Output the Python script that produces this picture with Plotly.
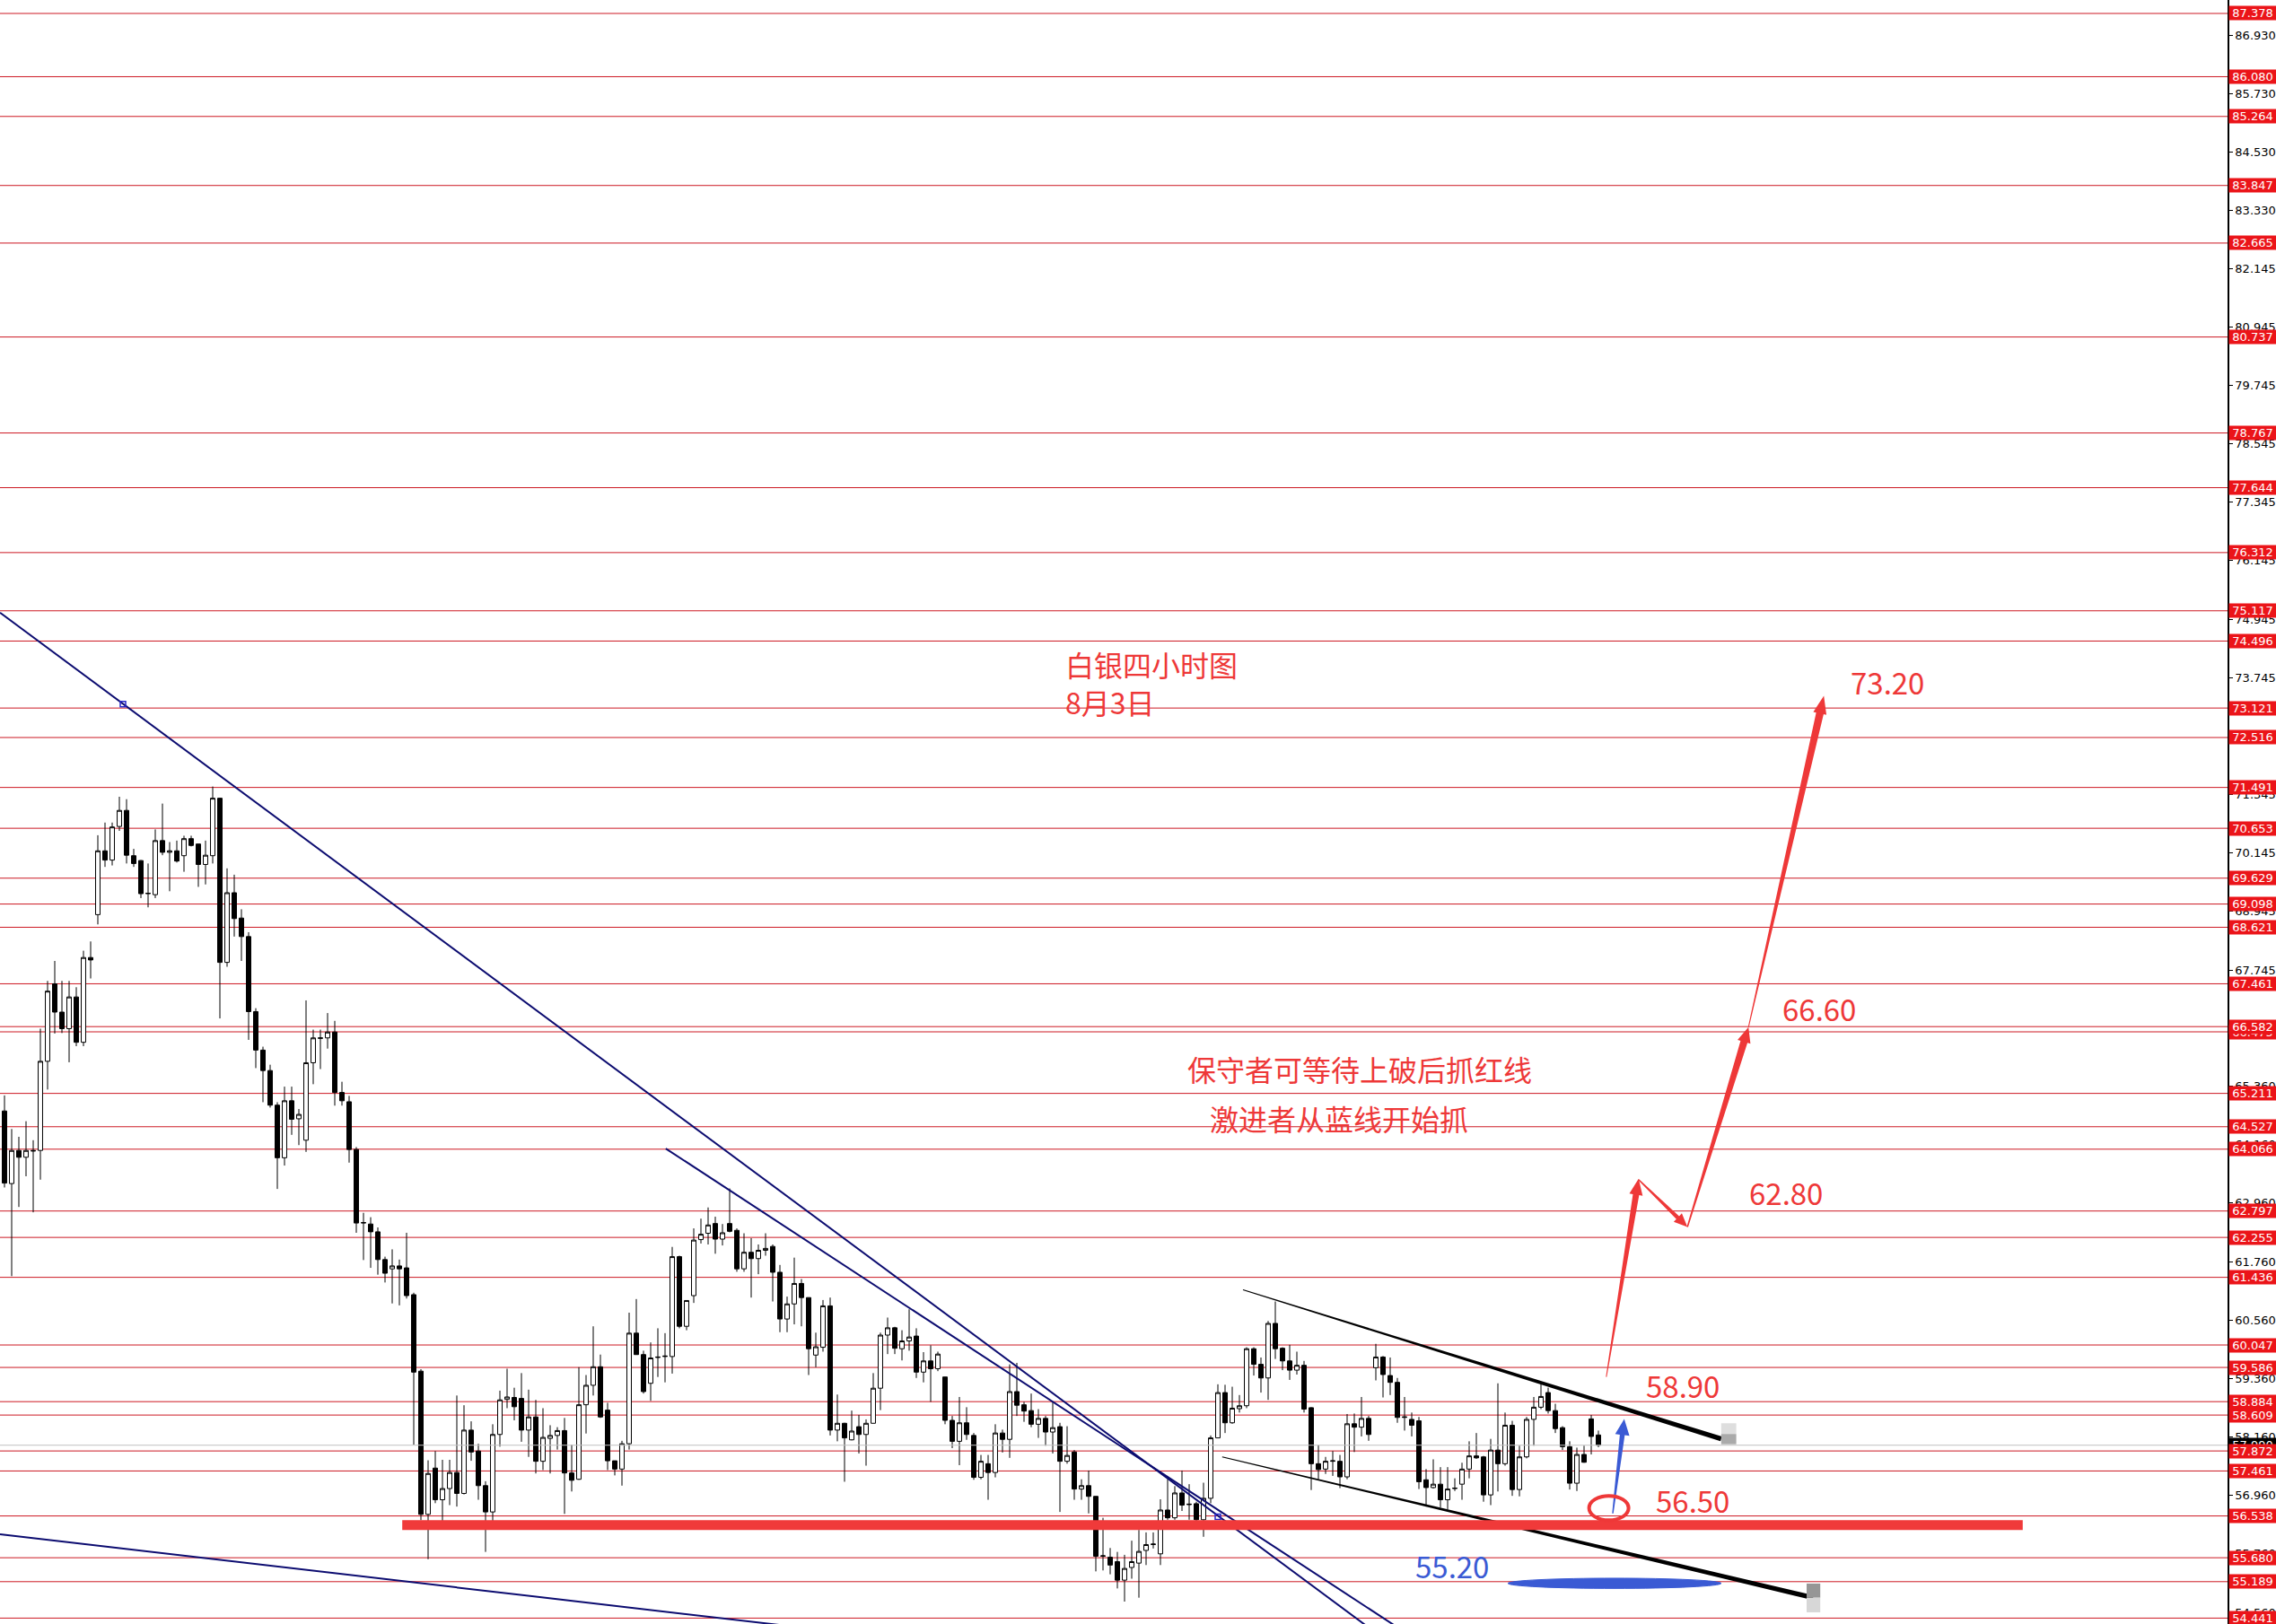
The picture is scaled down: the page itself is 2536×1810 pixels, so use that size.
import math
import plotly.graph_objects as go

# ---- candle data (4h bars) ----
opens = [64.85, 63.36, 64.04, 63.90, 64.04, 64.04, 65.87, 67.46, 66.88, 66.54,
         67.19, 66.26, 68.00, 68.88, 70.19, 70.00, 70.69, 71.02, 70.09, 69.99,
         69.31, 69.29, 70.40, 70.16, 70.19, 70.09, 70.44, 70.33, 69.91, 70.09,
         71.27, 67.90, 69.33, 68.81, 68.43, 66.89, 66.10, 65.68, 64.97, 63.89,
         65.06, 64.69, 64.25, 65.84, 66.34, 66.35, 66.47, 65.23, 65.04, 64.06,
         62.55, 62.53, 62.37, 61.80, 61.61, 61.67, 61.63, 61.08, 59.51, 56.57,
         57.52, 56.87, 57.10, 57.43, 57.00, 58.30, 57.87, 57.16, 56.62, 58.21,
         58.93, 58.97, 58.95, 58.30, 58.57, 57.66, 58.13, 58.19, 58.29, 57.42,
         57.29, 58.82, 59.22, 59.60, 58.71, 57.67, 57.50, 58.02, 60.29, 59.85,
         59.26, 59.79, 59.81, 59.81, 61.86, 60.43, 61.06, 62.21, 62.34, 62.54,
         62.22, 62.54, 62.40, 61.61, 61.95, 61.82, 61.99, 62.07, 61.54, 60.58,
         60.89, 61.31, 61.02, 59.84, 60.00, 60.85, 58.30, 58.44, 58.10, 58.37,
         58.21, 58.44, 59.16, 60.25, 60.40, 59.97, 60.13, 60.23, 59.49, 59.72,
         59.56, 59.39, 58.50, 58.07, 58.45, 58.19, 57.33, 57.61, 57.43, 58.24,
         58.11, 59.09, 58.82, 58.70, 58.42, 58.54, 58.26, 58.37, 57.66, 57.85,
         57.09, 57.16, 56.94, 55.71, 55.69, 55.60, 55.22, 55.48, 55.57, 55.83,
         55.95, 55.76, 56.66, 56.50, 57.01, 56.77, 56.79, 56.46, 56.90, 58.14,
         59.07, 58.45, 58.74, 58.80, 59.97, 59.65, 59.37, 60.49, 59.98, 59.72,
         59.53, 59.63, 58.76, 57.61, 57.50, 57.66, 57.66, 57.34, 58.43, 58.36,
         58.54, 59.58, 59.80, 59.42, 59.28, 58.56, 58.52, 58.49, 57.28, 57.12,
         57.19, 56.87, 57.10, 57.19, 57.50, 57.77, 57.75, 56.97, 57.89, 57.61,
         58.40, 57.08, 57.75, 58.52, 58.77, 59.07, 58.70, 58.35, 57.96, 57.21,
         57.80, 58.53, 58.20]
highs = [65.17, 64.48, 64.32, 64.64, 64.25, 66.54, 67.52, 67.93, 67.52, 67.52,
         67.39, 68.14, 68.33, 70.51, 70.77, 70.77, 71.30, 71.25, 70.23, 70.00,
         69.93, 70.63, 71.16, 70.37, 70.40, 70.50, 70.50, 70.33, 70.40, 71.51,
         71.28, 69.83, 69.70, 68.99, 68.52, 66.96, 66.17, 65.80, 65.03, 65.35,
         65.35, 64.89, 67.12, 66.52, 66.52, 66.86, 66.70, 65.45, 65.16, 64.11,
         62.76, 62.67, 62.46, 61.86, 62.01, 61.80, 62.35, 61.12, 59.55, 57.68,
         57.87, 57.69, 57.69, 59.01, 58.81, 58.48, 58.02, 57.25, 58.42, 59.11,
         59.56, 59.17, 59.47, 59.13, 58.92, 58.75, 58.40, 58.36, 58.55, 58.00,
         59.59, 59.43, 60.43, 59.85, 58.86, 57.67, 58.08, 60.71, 60.99, 59.93,
         60.10, 60.39, 60.29, 62.06, 61.88, 60.96, 62.44, 62.64, 62.87, 62.68,
         62.53, 63.26, 62.44, 62.34, 62.24, 62.11, 62.34, 62.11, 61.69, 61.04,
         61.84, 61.40, 61.02, 60.30, 60.97, 61.02, 59.03, 58.45, 58.70, 58.61,
         58.52, 59.47, 60.30, 60.61, 60.42, 60.35, 60.78, 60.39, 59.90, 60.04,
         59.91, 59.39, 58.59, 58.98, 58.77, 58.24, 57.79, 57.79, 58.42, 58.31,
         59.65, 59.68, 58.88, 59.05, 58.73, 58.59, 58.88, 58.45, 58.38, 57.89,
         57.29, 57.47, 56.94, 56.50, 55.88, 55.80, 55.74, 56.03, 56.25, 56.20,
         56.20, 56.88, 57.29, 57.15, 57.47, 57.19, 56.83, 57.22, 58.19, 59.24,
         59.23, 59.19, 59.02, 60.00, 60.00, 59.79, 60.54, 60.94, 60.00, 60.05,
         59.91, 59.72, 58.77, 57.99, 57.75, 57.87, 57.79, 58.63, 58.64, 58.98,
         58.59, 60.07, 59.82, 59.79, 59.37, 58.98, 58.66, 58.57, 57.50, 57.70,
         57.54, 57.54, 57.31, 57.63, 58.07, 58.24, 57.77, 58.12, 59.26, 58.66,
         58.49, 57.98, 58.57, 58.98, 59.26, 59.17, 58.84, 58.38, 58.07, 57.94,
         57.98, 58.61, 58.29]
lows = [63.28, 61.46, 62.88, 63.51, 62.77, 63.44, 65.29, 66.44, 66.45, 65.85,
        66.18, 66.18, 67.57, 68.68, 69.86, 69.89, 70.60, 69.93, 69.86, 69.22,
        69.03, 69.22, 70.10, 69.36, 69.95, 69.76, 70.28, 69.45, 69.50, 69.93,
        66.75, 67.81, 68.43, 67.93, 66.31, 65.73, 65.03, 64.92, 63.25, 63.73,
        64.36, 64.15, 64.01, 65.40, 65.71, 66.13, 64.96, 64.96, 63.79, 62.35,
        61.79, 61.63, 61.49, 61.33, 60.90, 60.86, 61.00, 58.00, 56.45, 55.65,
        56.80, 56.38, 56.76, 56.73, 56.98, 57.67, 56.87, 55.80, 56.30, 57.96,
        58.75, 58.50, 58.06, 57.75, 57.41, 57.48, 57.41, 57.90, 56.58, 57.04,
        57.28, 58.23, 59.01, 58.55, 57.48, 57.37, 57.16, 57.90, 59.85, 59.05,
        58.90, 59.39, 59.28, 59.46, 60.39, 60.35, 60.91, 62.13, 62.11, 61.92,
        62.09, 62.36, 61.55, 61.55, 61.02, 61.50, 61.88, 60.94, 60.31, 60.31,
        60.47, 60.43, 59.43, 59.59, 59.91, 58.19, 58.07, 57.24, 58.09, 57.82,
        57.57, 58.44, 58.71, 59.86, 59.86, 59.73, 59.93, 59.37, 59.28, 58.88,
        59.51, 58.42, 57.93, 57.58, 58.10, 57.28, 57.29, 56.87, 57.33, 57.84,
        57.73, 58.59, 58.47, 58.36, 58.14, 57.98, 57.82, 56.62, 57.61, 56.87,
        56.87, 56.59, 55.40, 55.42, 55.34, 55.05, 54.78, 55.25, 54.86, 55.53,
        55.87, 55.53, 56.46, 56.46, 56.64, 56.46, 56.38, 56.11, 56.80, 58.14,
        58.24, 58.43, 58.66, 58.75, 59.42, 59.07, 58.92, 59.76, 59.53, 59.33,
        59.44, 58.66, 57.07, 57.29, 57.40, 57.36, 57.11, 57.29, 57.85, 58.17,
        58.08, 59.32, 58.97, 59.02, 58.45, 58.29, 58.17, 57.09, 56.73, 57.10,
        56.71, 56.67, 57.05, 56.87, 57.31, 57.71, 56.83, 56.76, 57.04, 57.57,
        56.95, 56.94, 57.72, 57.98, 58.73, 58.64, 58.24, 57.89, 57.08, 57.05,
        57.63, 57.80, 57.95]
closes = [63.37, 64.04, 63.90, 64.04, 64.03, 65.87, 67.31, 66.88, 66.54, 67.19,
          66.26, 68.00, 67.95, 70.19, 70.00, 70.68, 71.02, 70.10, 69.93, 69.31,
          69.32, 70.40, 70.16, 70.19, 69.98, 70.44, 70.30, 69.91, 70.10, 71.27,
          67.90, 69.33, 68.80, 68.43, 66.89, 66.10, 65.68, 64.97, 63.89, 65.06,
          64.68, 64.78, 65.84, 66.35, 66.35, 66.47, 65.23, 65.06, 64.06, 62.55,
          62.56, 62.37, 61.80, 61.52, 61.67, 61.61, 61.06, 59.49, 56.57, 57.41,
          56.87, 57.10, 57.43, 57.00, 58.30, 57.85, 57.16, 56.62, 58.21, 58.92,
          58.98, 58.78, 58.30, 58.57, 57.66, 58.15, 58.19, 58.29, 57.42, 57.27,
          58.82, 59.22, 59.60, 58.57, 57.67, 57.50, 58.02, 60.29, 59.85, 59.09,
          59.78, 59.80, 59.82, 61.86, 60.43, 60.96, 62.20, 62.32, 62.51, 62.22,
          62.35, 62.38, 61.61, 61.95, 61.82, 61.99, 62.03, 61.54, 60.58, 60.89,
          61.31, 61.02, 59.97, 60.01, 60.85, 58.30, 58.44, 58.14, 58.28, 58.21,
          58.44, 59.16, 60.25, 60.40, 59.98, 60.13, 60.21, 59.49, 59.72, 59.56,
          59.86, 58.50, 58.07, 58.45, 58.21, 57.33, 57.66, 57.43, 58.24, 58.11,
          59.09, 58.81, 58.69, 58.42, 58.54, 58.26, 58.35, 57.66, 57.78, 57.09,
          57.16, 56.94, 55.71, 55.72, 55.53, 55.22, 55.46, 55.60, 55.81, 55.95,
          55.96, 56.66, 56.50, 57.01, 56.76, 56.78, 56.46, 56.90, 58.14, 59.07,
          58.45, 58.75, 58.80, 59.97, 59.65, 59.37, 60.49, 59.97, 59.72, 59.53,
          59.63, 58.73, 57.61, 57.49, 57.66, 57.67, 57.34, 58.43, 58.36, 58.54,
          58.21, 59.80, 59.44, 59.28, 58.56, 58.57, 58.40, 57.24, 57.12, 57.19,
          56.87, 57.09, 57.11, 57.50, 57.77, 57.73, 56.97, 57.89, 57.61, 58.40,
          57.08, 57.75, 58.52, 58.77, 58.99, 58.70, 58.33, 57.96, 57.21, 57.80,
          57.64, 58.17, 57.99]
bars = list(range(len(closes)))

# horizontal red levels and the plain price-scale ticks
red_levels = [87.378, 86.080, 85.264, 83.847, 82.665, 80.737, 78.767, 77.644,
              76.312, 75.117, 74.496, 73.121, 72.516, 71.491, 70.653, 69.629,
              69.098, 68.621, 67.461, 66.475, 66.582, 65.211, 64.527, 64.066,
              62.797, 62.255, 61.436, 60.047, 59.586, 58.884, 58.609, 57.872,
              57.461, 56.538, 55.680, 55.189, 54.441]
scale_ticks = [86.930, 85.730, 84.530, 83.330, 82.145, 80.945, 79.745, 78.545,
               77.345, 76.145, 74.945, 73.745, 72.545, 71.345, 70.145, 68.945,
               67.745, 66.545, 65.360, 64.160, 62.960, 61.760, 60.560, 59.360,
               58.160, 56.960, 55.760, 54.560]

# trend lines (bar index, price)
navy_lines = [
    [(-0.625, 75.08), (192.0, 54.03)],
    [(92.1, 64.08), (196.0, 54.06)],
    [(-0.625, 56.16), (115.0, 54.18)],
]
navy_marks = [(16.5, 73.20), (169.0, 56.52)]
channel_top = [(172.5, 61.18), (239.1, 58.12)]
channel_bottom = [(169.6, 57.75), (251.9, 54.86)]
support_line = [(55.4, 56.35), (281.1, 56.35)]

# drawn arrows: start, tip
red_arrows = [
    [(223.1, 59.39), (227.6, 63.46)],
    [(227.6, 63.44), (234.4, 62.47)],
    [(234.4, 62.47), (242.9, 66.57)],
    [(242.9, 66.57), (253.4, 73.37)],
]
blue_arrow = [(224.0, 56.59), (225.6, 58.53)]

target_labels = ["73.20", "66.60", "62.80", "58.90", "56.50"]
target_pos = [(262.3, 73.65), (252.8, 66.95), (248.1, 63.17), (233.8, 59.22), (235.1, 56.86)]

RED = "rgb(238,56,56)"
BLUE = "rgb(58,90,212)"
NAVY = "rgb(12,12,112)"
CJK = "Noto Sans CJK SC"

PX_BAR = 8.0      # pixels per bar
PX_PRICE = 54.3   # pixels per price unit


def taper(p0, p1, w0, w1, head_w=0.0, head_len=0.0):
    # tapered stroke (optionally with arrow head) as a closed polygon
    x0, y0 = p0[0] * PX_BAR, p0[1] * PX_PRICE
    x1, y1 = p1[0] * PX_BAR, p1[1] * PX_PRICE
    d = math.hypot(x1 - x0, y1 - y0)
    ux, uy = (x1 - x0) / d, (y1 - y0) / d
    nx, ny = -uy, ux
    bx, by = x1 - ux * head_len, y1 - uy * head_len
    pts = [(x0 + nx * w0 / 2, y0 + ny * w0 / 2), (bx + nx * w1 / 2, by + ny * w1 / 2)]
    if head_len > 0:
        pts += [(bx + nx * head_w / 2, by + ny * head_w / 2), (x1, y1),
                (bx - nx * head_w / 2, by - ny * head_w / 2)]
    else:
        pts += [(x1 + nx * w1 / 2, y1 + ny * w1 / 2), (x1 - nx * w1 / 2, y1 - ny * w1 / 2)]
    pts += [(bx - nx * w1 / 2, by - ny * w1 / 2), (x0 - nx * w0 / 2, y0 - ny * w0 / 2)]
    pts.append(pts[0])
    return [p[0] / PX_BAR for p in pts], [p[1] / PX_PRICE for p in pts]


def poly(xs, ys, color):
    return go.Scatter(x=xs, y=ys, mode="lines", fill="toself", fillcolor=color,
                      line=dict(width=0, color=color), hoverinfo="skip", showlegend=False)


fig = go.Figure()

# current price line
fig.add_trace(go.Scatter(x=[-1, 320], y=[closes[-1], closes[-1]], mode="lines",
                         line=dict(color="rgb(192,192,192)", width=1),
                         hoverinfo="skip", showlegend=False))

fig.add_trace(go.Candlestick(
    x=bars, open=opens, high=highs, low=lows, close=closes,
    increasing=dict(line=dict(color="black", width=1), fillcolor="white"),
    decreasing=dict(line=dict(color="black", width=1), fillcolor="black"),
    showlegend=False, hoverinfo="skip",
))

for seg in navy_lines:
    fig.add_trace(go.Scatter(x=[p[0] for p in seg], y=[p[1] for p in seg], mode="lines",
                             line=dict(color=NAVY, width=2), hoverinfo="skip", showlegend=False))
fig.add_trace(go.Scatter(x=[p[0] for p in navy_marks], y=[p[1] for p in navy_marks],
                         mode="markers", marker=dict(symbol="square-open", size=6,
                                                     color="rgb(40,40,200)", line=dict(width=1.5)),
                         hoverinfo="skip", showlegend=False))

# black channel (hand drawn, thickening to the right)
fig.add_trace(poly(*taper(channel_top[0], channel_top[1], 1.2, 5.5), "black"))
fig.add_trace(poly(*taper(channel_bottom[0], channel_bottom[1], 1.2, 5.5), "black"))

# thick red support
fig.add_trace(go.Scatter(x=[p[0] for p in support_line], y=[p[1] for p in support_line],
                         mode="lines", line=dict(color="rgb(240,58,58)", width=11),
                         hoverinfo="skip", showlegend=False))

# red path arrows
arrow_sizes = [(1.0, 7.0, 15, 18), (1.5, 4.5, 13, 15), (1.5, 8.0, 15, 17), (1.0, 8.5, 15, 20)]
for seg, (w0, w1, hw, hl) in zip(red_arrows, arrow_sizes):
    fig.add_trace(poly(*taper(seg[0], seg[1], w0, w1, hw, hl), RED))
fig.add_trace(poly(*taper(blue_arrow[0], blue_arrow[1], 1.5, 5.5, 16, 18), BLUE))

shapes = []
for lv in red_levels:
    shapes.append(dict(type="line", xref="paper", x0=0, x1=1, yref="y", y0=lv, y1=lv,
                       line=dict(color="rgb(205,25,35)", width=1), layer="below"))
# red ring at the support, blue mark under it
shapes.append(dict(type="circle", xref="x", yref="y", x0=220.7, x1=226.2, y0=56.45, y1=56.95,
                   line=dict(color=RED, width=4), layer="above"))
shapes.append(dict(type="circle", xref="x", yref="y", x0=209.4, x1=239.1, y0=55.05, y1=55.26,
                   line=dict(color=BLUE, width=1), fillcolor=BLUE, layer="above"))
# little grey drag handles at the channel ends
shapes.append(dict(type="rect", xref="x", yref="y", x0=239.1, x1=241.2, y0=58.22, y1=58.44,
                   line=dict(width=0), fillcolor="rgb(222,222,222)", layer="above"))
shapes.append(dict(type="rect", xref="x", yref="y", x0=239.1, x1=241.2, y0=58.01, y1=58.22,
                   line=dict(width=0), fillcolor="rgb(170,170,170)", layer="above"))
shapes.append(dict(type="rect", xref="x", yref="y", x0=251.0, x1=252.9, y0=54.86, y1=55.15,
                   line=dict(width=0), fillcolor="rgb(150,150,150)", layer="above"))
shapes.append(dict(type="rect", xref="x", yref="y", x0=251.0, x1=252.9, y0=54.56, y1=54.86,
                   line=dict(width=0), fillcolor="rgb(215,215,215)", layer="above"))

annotations = []
# current price tag (mostly hidden under the 57.872 tag)
annotations.append(dict(xref="paper", x=1, xanchor="left", xshift=1, yref="y", y=closes[-1],
                        text=f"{closes[-1]:.3f}", showarrow=False, bgcolor="black",
                        font=dict(family="DejaVu Sans", size=13, color="white"),
                        width=52, height=15, borderpad=0))
for lv in red_levels:
    annotations.append(dict(xref="paper", x=1, xanchor="left", xshift=1, yref="y", y=lv,
                            text=f"{lv:.3f}", showarrow=False, bgcolor="rgb(235,20,25)",
                            font=dict(family="DejaVu Sans", size=13, color="white"),
                            width=52, height=15, borderpad=0))

annotations.append(dict(xref="x", yref="y", x=147.5, y=73.64, xanchor="left", yanchor="middle",
                        align="left", text="白银四小时图<br>8月3日", showarrow=False,
                        font=dict(family=CJK, size=32, color=RED)))
annotations.append(dict(xref="x", yref="y", x=188.8, y=65.72, text="保守者可等待上破后抓红线",
                        showarrow=False, font=dict(family=CJK, size=32, color=RED)))
annotations.append(dict(xref="x", yref="y", x=185.9, y=64.70, text="激进者从蓝线开始抓",
                        showarrow=False, font=dict(family=CJK, size=32, color=RED)))
for txt, (tx, ty) in zip(target_labels, target_pos):
    annotations.append(dict(xref="x", yref="y", x=tx, y=ty, text=txt, showarrow=False,
                            font=dict(family=CJK, size=33, color=RED)))
annotations.append(dict(xref="x", yref="y", x=201.6, y=55.52, text="55.20", showarrow=False,
                        font=dict(family=CJK, size=33, color=BLUE)))

fig.update_layout(
    width=2536, height=1810,
    margin=dict(l=0, r=54, t=0, b=0),
    paper_bgcolor="white", plot_bgcolor="white",
    boxgap=0.38, boxgroupgap=0,
    shapes=shapes, annotations=annotations,
    showlegend=False,
    xaxis=dict(range=[-0.625, 309.625], visible=False, rangeslider=dict(visible=False),
               showgrid=False, zeroline=False),
    yaxis=dict(range=[54.32, 87.654], side="right", showgrid=False, zeroline=False,
               showline=True, linecolor="black", linewidth=1.5,
               tickvals=scale_ticks, ticktext=[f"{t:.3f}" for t in scale_ticks],
               ticks="outside", ticklen=4, tickcolor="black",
               tickfont=dict(family="DejaVu Sans", size=13, color="black")),
)

# the page's default body margin would push the fixed-size figure off the window
fig.write_html("out.html", config={"displayModeBar": False},
               post_script="document.body.style.margin='0';")
